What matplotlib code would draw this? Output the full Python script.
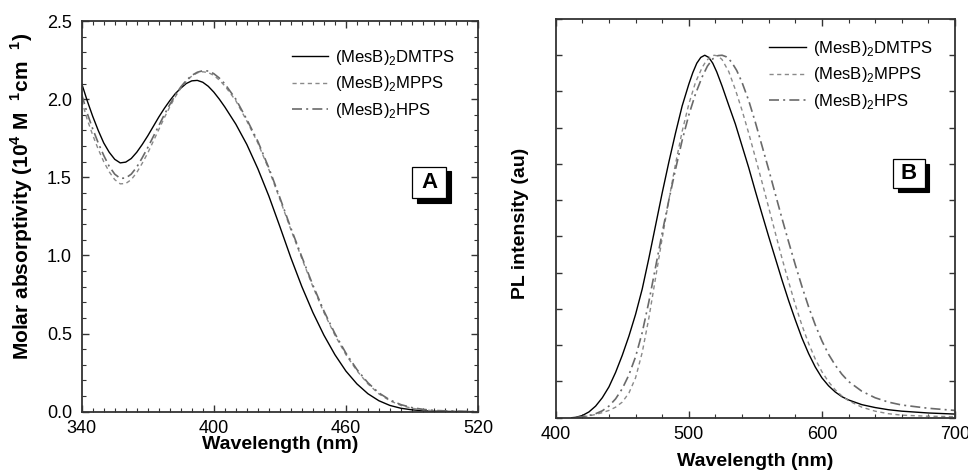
import numpy as np
import matplotlib
matplotlib.use("Agg")
import matplotlib.pyplot as plt
from matplotlib.patches import Rectangle
from matplotlib.ticker import MultipleLocator, NullFormatter, FixedLocator

plt.rcParams['font.family'] = ['Liberation Sans', 'DejaVu Sans']
plt.rcParams['mathtext.fontset'] = 'custom'
plt.rcParams['mathtext.rm'] = 'Liberation Sans'
plt.rcParams['mathtext.bf'] = 'Liberation Sans:bold'

# ---------------- Panel A: absorption ----------------
abs_wl = [340, 342.5, 345, 347.5, 350, 352.5, 355, 357.5, 360, 362.5, 365, 367.5, 370, 372.5,
          375, 377.5, 380, 382.5, 385, 387.5, 390, 392.5, 395, 397.5, 400, 402.5, 405, 410,
          415, 420, 425, 430, 435, 440, 445, 450, 455, 460, 465, 470, 475, 480, 485, 490,
          495, 500, 510, 520]
abs_dmtps = [2.10, 1.99, 1.89, 1.80, 1.72, 1.66, 1.615, 1.592, 1.597, 1.62, 1.66, 1.71, 1.765, 1.825,
             1.885, 1.94, 1.99, 2.035, 2.07, 2.10, 2.117, 2.12, 2.108, 2.082, 2.045, 2.0, 1.95, 1.84,
             1.71, 1.555, 1.38, 1.185, 0.985, 0.80, 0.635, 0.49, 0.365, 0.26, 0.178, 0.115, 0.07, 0.04,
             0.022, 0.012, 0.006, 0.003, 0.001, 0.0]
abs_mpps = [1.99, 1.87, 1.77, 1.68, 1.60, 1.535, 1.485, 1.458, 1.46, 1.485, 1.53, 1.59, 1.655, 1.73,
            1.805, 1.88, 1.95, 2.015, 2.07, 2.115, 2.148, 2.168, 2.175, 2.17, 2.152, 2.122, 2.085, 1.99,
            1.86, 1.72, 1.55, 1.36, 1.165, 0.98, 0.80, 0.635, 0.49, 0.365, 0.262, 0.178, 0.114, 0.07,
            0.04, 0.022, 0.012, 0.006, 0.002, 0.0]
abs_hps = [2.03, 1.91, 1.81, 1.72, 1.64, 1.57, 1.52, 1.493, 1.495, 1.52, 1.565, 1.625, 1.69, 1.76,
           1.83, 1.90, 1.965, 2.025, 2.078, 2.12, 2.152, 2.172, 2.182, 2.18, 2.163, 2.135, 2.098, 2.0,
           1.87, 1.73, 1.56, 1.37, 1.175, 0.99, 0.81, 0.645, 0.50, 0.375, 0.27, 0.185, 0.12, 0.075,
           0.045, 0.026, 0.015, 0.008, 0.003, 0.001]

# ---------------- Panel B: photoluminescence ----------------
pl_dmtps_wl = [412, 415, 420, 425, 430, 435, 440, 445, 450, 455, 460, 465, 470, 475, 480, 485, 490,
               495, 500, 503, 506, 509, 512, 515, 518, 521, 525, 530, 535, 540, 545, 550, 555, 560,
               565, 570, 575, 580, 585, 590, 595, 600, 605, 610, 615, 620, 630, 640, 650, 660, 680, 700]
pl_dmtps = [0.0, 0.001, 0.006, 0.016, 0.032, 0.055, 0.085, 0.125, 0.172, 0.225, 0.285, 0.355, 0.44,
            0.53, 0.62, 0.705, 0.785, 0.86, 0.92, 0.952, 0.978, 0.994, 1.0, 0.994, 0.978, 0.954,
            0.915, 0.862, 0.81, 0.75, 0.69, 0.625, 0.562, 0.50, 0.44, 0.38, 0.323, 0.27, 0.22,
            0.177, 0.14, 0.11, 0.088, 0.071, 0.058, 0.049, 0.036, 0.028, 0.022, 0.018, 0.013, 0.01]
pl_mpps_wl = [415, 420, 425, 430, 435, 440, 445, 450, 455, 460, 465, 470, 475, 480, 485, 490, 495,
              500, 505, 510, 513, 516, 519, 522, 525, 530, 535, 540, 545, 550, 555, 560, 565, 570,
              575, 580, 585, 590, 595, 600, 605, 610, 615, 620, 630, 640, 650, 660, 680, 700]
pl_mpps = [0.0, 0.002, 0.005, 0.009, 0.014, 0.02, 0.029, 0.043, 0.068, 0.11, 0.18, 0.275, 0.385,
           0.495, 0.60, 0.70, 0.79, 0.865, 0.925, 0.966, 0.984, 0.995, 1.0, 0.998, 0.988, 0.955,
           0.905, 0.848, 0.785, 0.718, 0.65, 0.58, 0.51, 0.44, 0.375, 0.312, 0.255, 0.205, 0.162,
           0.127, 0.099, 0.077, 0.06, 0.047, 0.029, 0.018, 0.011, 0.007, 0.004, 0.003]
pl_hps_wl = [415, 420, 425, 430, 435, 440, 445, 450, 455, 460, 465, 470, 475, 480, 485, 490, 495,
             500, 505, 510, 514, 518, 522, 525, 528, 532, 536, 540, 545, 550, 555, 560, 565, 570,
             575, 580, 585, 590, 595, 600, 605, 610, 615, 620, 630, 640, 650, 660, 680, 700]
pl_hps = [0.0, 0.003, 0.006, 0.011, 0.019, 0.032, 0.052, 0.08, 0.118, 0.168, 0.235, 0.32, 0.415,
          0.51, 0.60, 0.685, 0.765, 0.835, 0.893, 0.94, 0.97, 0.99, 0.999, 1.0, 0.996, 0.982,
          0.958, 0.925, 0.875, 0.815, 0.75, 0.685, 0.617, 0.55, 0.485, 0.422, 0.362, 0.306, 0.256,
          0.212, 0.175, 0.145, 0.12, 0.10, 0.073, 0.055, 0.043, 0.035, 0.026, 0.02]

labels = ['(MesB)$_2$DMTPS', '(MesB)$_2$MPPS', '(MesB)$_2$HPS']
styles = [dict(color='black', lw=1.0, ls='-'),
          dict(color='#8a8a8a', lw=1.0, ls=(0, (3, 2.5))),
          dict(color='#6a6a6a', lw=1.2, ls=(0, (6, 2.5, 1.2, 2.5)))]

W, H = 968, 470
fig = plt.figure(figsize=(W / 100, H / 100), dpi=100)

def px_axes(l, t, r, b):
    return fig.add_axes([l / W, 1 - b / H, (r - l) / W, (b - t) / H])

def style_axes(ax):
    for s in ax.spines.values():
        s.set_color('#333333')
        s.set_linewidth(1.3)
    ax.tick_params(which='both', direction='in', top=True, right=True,
                   colors='#333333', labelcolor='black', labelsize=13)
    ax.tick_params(which='major', length=5, width=1.0)
    ax.tick_params(which='minor', length=3, width=0.8)

def shadow_box(letter, x0, y0, x1, y1):
    off = 4.5
    fig.patches.append(Rectangle(((x0 + off) / W, 1 - (y1 + off) / H), (x1 - x0) / W, (y1 - y0) / H,
                                 transform=fig.transFigure, facecolor='black', edgecolor='black',
                                 lw=0.8, zorder=10))
    fig.patches.append(Rectangle((x0 / W, 1 - y1 / H), (x1 - x0) / W, (y1 - y0) / H,
                                 transform=fig.transFigure, facecolor='white', edgecolor='black',
                                 lw=0.9, zorder=11))
    fig.text((x0 + x1) / 2 / W, 1 - (y0 + y1) / 2 / H, letter, ha='center', va='center',
             fontsize=16, fontweight='bold', zorder=12)

# Panel A
axA = px_axes(81.7, 21, 478, 411.7)
for x, y, lab, st in zip([abs_wl] * 3, [abs_dmtps, abs_mpps, abs_hps], labels, styles):
    axA.plot(x, y, label=lab, **st)
axA.set_xlim(340, 520)
axA.set_ylim(0, 2.5)
axA.xaxis.set_major_locator(FixedLocator([340, 400, 460, 520]))
axA.xaxis.set_minor_locator(MultipleLocator(5))
axA.yaxis.set_major_locator(MultipleLocator(0.5))
axA.yaxis.set_minor_locator(MultipleLocator(0.1))
axA.yaxis.set_major_formatter(plt.FuncFormatter(lambda v, p: f'{v:.1f}'))
style_axes(axA)
axA.tick_params(axis='x', which='major', pad=6)
axA.tick_params(axis='y', which='major', pad=7)
axA.set_xlabel('Wavelength (nm)', fontsize=14, fontweight='bold')
axA.xaxis.set_label_coords(0.5, -0.062)
axA.set_ylabel(r'Molar absorptivity (10$^{\mathbf{4}}$ M  $^{\mathbf{1}}$cm  $^{\mathbf{1}}$)',
               fontsize=15, fontweight='bold')
axA.yaxis.set_label_coords(-0.118, 0.552)
axA.legend(loc='upper left', bbox_to_anchor=(0.53, 0.932), frameon=False, fontsize=12,
           handlelength=2.2, handletextpad=0.4, labelspacing=0.47, borderpad=0,
           borderaxespad=0)
shadow_box('A', 412.3, 166.7, 446, 198.3)

# Panel B
axB = px_axes(555.7, 19, 955, 417.7)
for x, y, lab, st in zip([pl_dmtps_wl, pl_mpps_wl, pl_hps_wl], [pl_dmtps, pl_mpps, pl_hps],
                         labels, styles):
    axB.plot(x, y, label=lab, **st)
axB.set_xlim(400, 700)
axB.set_ylim(0, 1.1)
axB.xaxis.set_major_locator(MultipleLocator(100))
axB.xaxis.set_minor_locator(MultipleLocator(20))
axB.yaxis.set_major_locator(MultipleLocator(0.1))
axB.yaxis.set_major_formatter(NullFormatter())
style_axes(axB)
axB.tick_params(axis='y', which='major', length=4)
axB.tick_params(axis='x', which='major', pad=6)
axB.set_xlabel('Wavelength (nm)', fontsize=14, fontweight='bold')
axB.xaxis.set_label_coords(0.5, -0.088)
axB.set_ylabel('PL intensity (au)', fontsize=14, fontweight='bold')
axB.yaxis.set_label_coords(-0.066, 0.487)
axB.legend(loc='upper left', bbox_to_anchor=(0.535, 0.95), frameon=False, fontsize=12,
           handlelength=2.2, handletextpad=0.4, labelspacing=0.45, borderpad=0,
           borderaxespad=0)
shadow_box('B', 893.3, 159, 924.7, 187.7)

fig.savefig('out.png', dpi=100)
